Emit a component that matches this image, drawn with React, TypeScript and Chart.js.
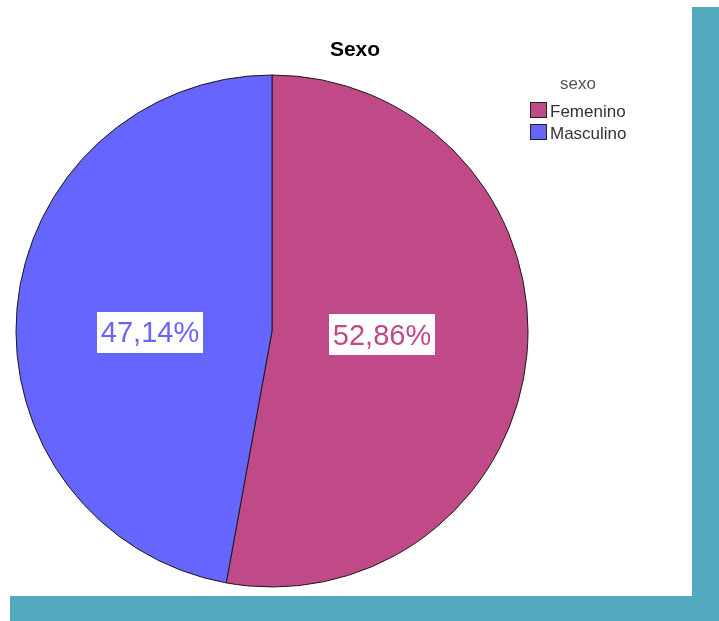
import React, { useEffect, useRef } from "react";
import { Chart, registerables } from "chart.js";

Chart.register(...registerables);

const chartTitle = "Sexo";
const legendTitle = "sexo";
const categories = ["Femenino", "Masculino"];
const percentages = [52.86, 47.14];
const percentLabels = ["52,86%", "47,14%"];
const sliceColors = ["#c04a87", "#6666ff"];

const FONT = "'Liberation Sans', Arial, sans-serif";

const overlayPlugin = {
  id: "overlay",
  afterDraw(chart: any) {
    const ctx = chart.ctx;
    const meta = chart.getDatasetMeta(0);
    ctx.save();
    // title
    ctx.fillStyle = "#000";
    ctx.font = `bold 21px ${FONT}`;
    ctx.textAlign = "center";
    ctx.textBaseline = "alphabetic";
    ctx.fillText(chartTitle, 355, 56);

    // legend
    ctx.fillStyle = "#555";
    ctx.font = `17px ${FONT}`;
    ctx.fillText(legendTitle, 578, 89);
    ctx.textAlign = "left";
    categories.forEach((c, i) => {
      const y = 102 + i * 22;
      ctx.fillStyle = sliceColors[i];
      ctx.fillRect(530, y, 17, 16);
      ctx.strokeStyle = "#222";
      ctx.lineWidth = 1;
      ctx.strokeRect(530.5, y + 0.5, 16, 15);
      ctx.fillStyle = "#333";
      ctx.font = `17px ${FONT}`;
      ctx.fillText(c, 550, y + 15);
    });

    // slice labels
    meta.data.forEach((arc: any, i: number) => {
      const mid = (arc.startAngle + arc.endAngle) / 2;
      const r = arc.outerRadius * 0.455;
      const cx = arc.x - 6 + Math.cos(mid) * r;
      const cy = arc.y + 2.5 + Math.sin(mid) * r * 0.1;
      ctx.font = `29px ${FONT}`;
      const w = 106;
      const h = 41;
      ctx.fillStyle = "#fff";
      ctx.fillRect(Math.round(cx - w / 2), Math.round(cy - h / 2), w, h);
      ctx.fillStyle = sliceColors[i];
      ctx.textAlign = "center";
      ctx.textBaseline = "middle";
      ctx.fillText(percentLabels[i], cx, cy + 2);
    });
    ctx.restore();
  },
};

export default function App() {
  const ref = useRef<HTMLCanvasElement>(null);
  useEffect(() => {
    if (!ref.current) return;
    const chart = new Chart(ref.current, {
      type: "pie",
      data: {
        labels: categories,
        datasets: [
          {
            data: percentages,
            backgroundColor: sliceColors,
            borderColor: "#1a1a1a",
            borderWidth: 1,
          },
        ],
      },
      options: {
        animation: false,
        responsive: false,
        maintainAspectRatio: false,
        layout: { padding: { left: 15.5, right: 190.5, top: 74.5, bottom: 33.5 } },
        plugins: {
          legend: { display: false },
          title: { display: false },
          tooltip: { enabled: false },
        },
      },
      plugins: [overlayPlugin],
    });
    return () => chart.destroy();
  }, []);

  return (
    <div style={{ position: "fixed", left: 0, top: 0, width: 719, height: 621, background: "#fff" }}>
      <canvas ref={ref} width={719} height={621} style={{ position: "absolute", left: 0, top: 0 }} />
      <div style={{ position: "absolute", left: 692, top: 7, width: 27, height: 614, background: "#53a9be" }} />
      <div style={{ position: "absolute", left: 10, top: 596, width: 709, height: 25, background: "#53a9be" }} />
    </div>
  );
}
